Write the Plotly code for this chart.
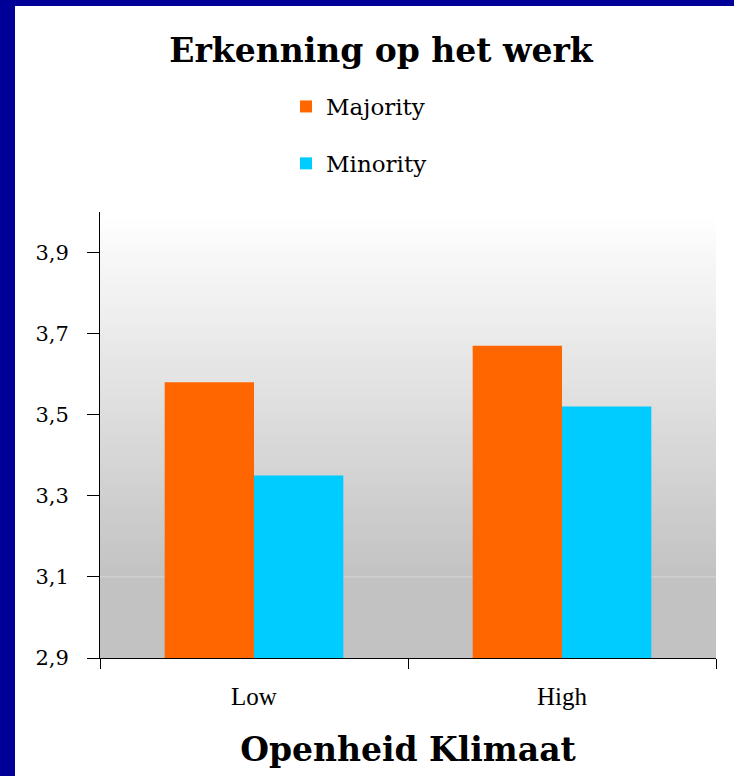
import plotly.graph_objects as go

categories = ["Low", "High"]
majority = [3.58, 3.67]
minority = [3.35, 3.52]
series_names = ["Majority", "Minority"]
tick_vals = [2.9, 3.1, 3.3, 3.5, 3.7, 3.9]

W, H = 734, 776
ML, MR, MT, MB = 100, 18, 212, 118
PW = W - ML - MR
PH = H - MT - MB

fig = go.Figure()
fig.add_trace(go.Bar(x=categories, y=majority, name=series_names[0],
                     marker=dict(color="#ff6600", line=dict(width=0)),
                     legendgroup="a"))
fig.add_trace(go.Bar(x=categories, y=minority, name=series_names[1],
                     marker=dict(color="#00ccff", line=dict(width=0)),
                     legendgroup="b"))

shapes = []
# white page with navy border on top and left
shapes.append(dict(type="rect", xref="paper", yref="paper",
                   x0=-(ML - 15) / PW, x1=1 + (MR + 10) / PW,
                   y0=-(MB + 10) / PH, y1=1 + (MT - 6) / PH,
                   fillcolor="white", line=dict(width=0), layer="below"))
# gradient background
n = 80
top_c, bot_c = 255, 194
stop = 0.18  # below this fraction of height, flat color
for i in range(n):
    f0 = i / n
    f1 = (i + 1) / n
    fm = (f0 + f1) / 2
    if fm < stop:
        c = bot_c
    else:
        t = (fm - stop) / (1 - stop)
        c = int(round(bot_c + (top_c - bot_c) * t))
    shapes.append(dict(type="rect", xref="x domain", yref="y domain",
                       x0=0, x1=1, y0=f0, y1=f1 + 0.002,
                       fillcolor=f"rgb({c},{c},{c})", line=dict(width=0),
                       layer="below"))
shapes.append(dict(type="line", xref="x domain", yref="y", x0=0, x1=1,
                   y0=3.1, y1=3.1, line=dict(color="#d6d6d6", width=1),
                   layer="below"))

serif = "DejaVu Serif"
fig.update_layout(
    width=W, height=H, autosize=False,
    margin=dict(l=ML, r=MR, t=MT, b=MB, pad=0, autoexpand=False),
    paper_bgcolor="#000099",
    plot_bgcolor="rgba(0,0,0,0)",
    separators=",.",
    barmode="group", bargap=0.42, bargroupgap=0,
    shapes=shapes,
    title=dict(text="<b>Erkenning op het werk</b>", x=381 / W, xanchor="center",
               y=1 - 50 / H, yanchor="middle",
               font=dict(family=serif, size=33, color="black")),
    legend=dict(x=(286 - ML) / PW, xref="paper", y=1 - 85 / H, yref="container",
                xanchor="left", yanchor="top", orientation="v",
                font=dict(family=serif, size=23, color="black"),
                tracegroupgap=24, bgcolor="rgba(0,0,0,0)",
                itemwidth=30),
    xaxis=dict(type="category", tickson="boundaries", ticks="outside",
               ticklen=10, tickcolor="black", tickwidth=1,
               showline=True, linecolor="black", linewidth=1,
               showgrid=False, ticklabelstandoff=16,
               tickfont=dict(family="Liberation Serif", size=25, color="black"),
               title=dict(text="<b>Openheid Klimaat</b>", standoff=28,
                          font=dict(family=serif, size=33, color="black"))),
    yaxis=dict(range=[2.9, 4.0], tickvals=tick_vals, tickformat=".1f",
               ticks="outside", ticklen=12, tickcolor="black",
               showline=True, linecolor="black", linewidth=1,
               showgrid=False, zeroline=False, ticklabelstandoff=14,
               tickfont=dict(family=serif, size=21, color="black")),
)

fig.write_html("out.html", config={"displayModeBar": False},
               post_script="document.body.style.margin='0';")
